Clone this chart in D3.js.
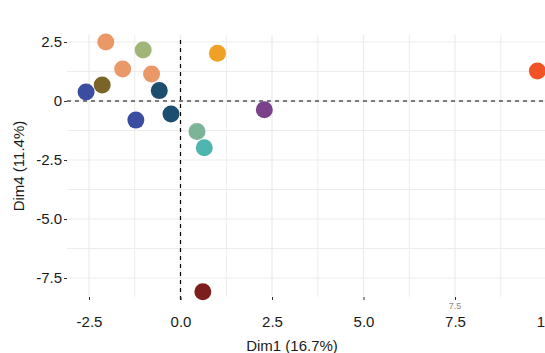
<!DOCTYPE html>
<html>
<head>
<meta charset="utf-8">
<script src="https://cdn.jsdelivr.net/npm/d3@7"></script>
<style>
  body { margin: 0; background: #fff; }
  svg { display: block; font-family: "Liberation Sans", Arial, sans-serif; }
</style>
</head>
<body>
<div class="canvas"></div>
<script>
// individual coordinates on Dim1 / Dim4
const dim1 = [-2.04, -1.02, -1.58, -0.79, -2.14, -2.58, -0.58, -1.22, -0.26, 0.45, 1.01, 2.29, 0.65, 9.75, 0.61];
const dim4 = [2.50, 2.16, 1.36, 1.14, 0.68, 0.38, 0.44, -0.81, -0.55, -1.29, 2.02, -0.37, -1.98, 1.27, -8.08];
const pointColours = ['#EA9867', '#A0B678', '#EA9867', '#EA9867', '#7B6427', '#3A4DA0', '#1C4F6F', '#3A4DA0',
                      '#1C4F6F', '#7BB497', '#F0A024', '#7A428A', '#4EB6AE', '#F25324', '#7C1E1C'];

const xTicks = [-2.5, 0, 2.5, 5, 7.5, 10];
const xTickLabels = ['-2.5', '0.0', '2.5', '5.0', '7.5', '1'];
const yTicks = [2.5, 0, -2.5, -5, -7.5];
const yTickLabels = ['2.5', '0', '-2.5', '-5.0', '-7.5'];
const xMinor = [-1.25, 1.25, 3.75, 6.25, 8.75];
const yMinor = [1.25, -1.25, -3.75, -6.25];

const width = 545, height = 353;
const panel = {left: 67, right: 560, top: 35, bottom: 297};

const svg = d3.select('.canvas')
    .append('svg')
    .attr('width', width)
    .attr('height', height);

const x = d3.scaleLinear().domain([-2.5, 7.5]).range([89, 455]);
const y = d3.scaleLinear().domain([2.5, -7.5]).range([42, 278]);

const grid = svg.append('g');

// minor grid
grid.selectAll('.vminor').data(xMinor).enter().append('line')
    .attr('x1', d => x(d)).attr('x2', d => x(d))
    .attr('y1', panel.top).attr('y2', panel.bottom)
    .attr('stroke', '#ececec').attr('stroke-width', 1);
grid.selectAll('.hminor').data(yMinor).enter().append('line')
    .attr('y1', d => y(d)).attr('y2', d => y(d))
    .attr('x1', panel.left).attr('x2', panel.right)
    .attr('stroke', '#ececec').attr('stroke-width', 1);

// major grid
grid.selectAll('.vmajor').data(xTicks).enter().append('line')
    .attr('x1', d => x(d)).attr('x2', d => x(d))
    .attr('y1', panel.top).attr('y2', panel.bottom)
    .attr('stroke', '#ebebeb').attr('stroke-width', 1.2);
grid.selectAll('.hmajor').data(yTicks).enter().append('line')
    .attr('y1', d => y(d)).attr('y2', d => y(d))
    .attr('x1', panel.left).attr('x2', panel.right)
    .attr('stroke', '#ebebeb').attr('stroke-width', 1.2);

// reference lines
svg.append('line')
    .attr('x1', panel.left).attr('x2', panel.right)
    .attr('y1', y(0)).attr('y2', y(0))
    .attr('stroke', '#000').attr('stroke-width', 1.2)
    .attr('stroke-dasharray', '4,4');
svg.append('line')
    .attr('x1', x(0)).attr('x2', x(0))
    .attr('y1', 40).attr('y2', 300)
    .attr('stroke', '#000').attr('stroke-width', 1.2)
    .attr('stroke-dasharray', '4,4');

// axes
const xAxis = d3.axisBottom(x).tickValues(xTicks)
    .tickFormat((d, i) => xTickLabels[i]).tickSize(3).tickPadding(16);
const yAxis = d3.axisLeft(y).tickValues(yTicks)
    .tickFormat((d, i) => yTickLabels[i]).tickSize(3).tickPadding(2);

const xAxisGroup = svg.append('g')
    .attr('transform', `translate(0, ${panel.bottom})`)
    .call(xAxis);
const yAxisGroup = svg.append('g')
    .attr('transform', `translate(${panel.left}, 0)`)
    .call(yAxis);

[xAxisGroup, yAxisGroup].forEach(g => {
    g.select('.domain').remove();
    g.selectAll('line').attr('stroke', '#333');
    g.selectAll('text')
        .attr('fill', '#1a1a1a')
        .attr('font-size', 15)
        .attr('font-family', '"Liberation Sans", Arial, sans-serif');
});

// the last label only shows its first digit at the window edge
xAxisGroup.selectAll('.tick')
    .filter(d => d === 10)
    .select('text')
    .attr('text-anchor', 'end')
    .attr('x', -2);

// stray small label above 7.5
svg.append('text')
    .attr('x', x(7.5)).attr('y', 309)
    .attr('text-anchor', 'middle')
    .attr('font-size', 9)
    .attr('fill', '#888')
    .text('7.5');

// points
svg.selectAll('circle')
    .data(dim1)
    .enter()
    .append('circle')
    .attr('cx', d => x(d))
    .attr('cy', (d, i) => y(dim4[i]))
    .attr('r', 8.5)
    .attr('fill', (d, i) => pointColours[i]);

// titles
svg.append('text')
    .attr('x', 292).attr('y', 351)
    .attr('text-anchor', 'middle')
    .attr('font-size', 15)
    .attr('fill', '#1a1a1a')
    .text('Dim1 (16.7%)');

svg.append('text')
    .attr('transform', 'rotate(-90)')
    .attr('x', -166).attr('y', 24)
    .attr('text-anchor', 'middle')
    .attr('font-size', 15)
    .attr('fill', '#1a1a1a')
    .text('Dim4 (11.4%)');
</script>
</body>
</html>
